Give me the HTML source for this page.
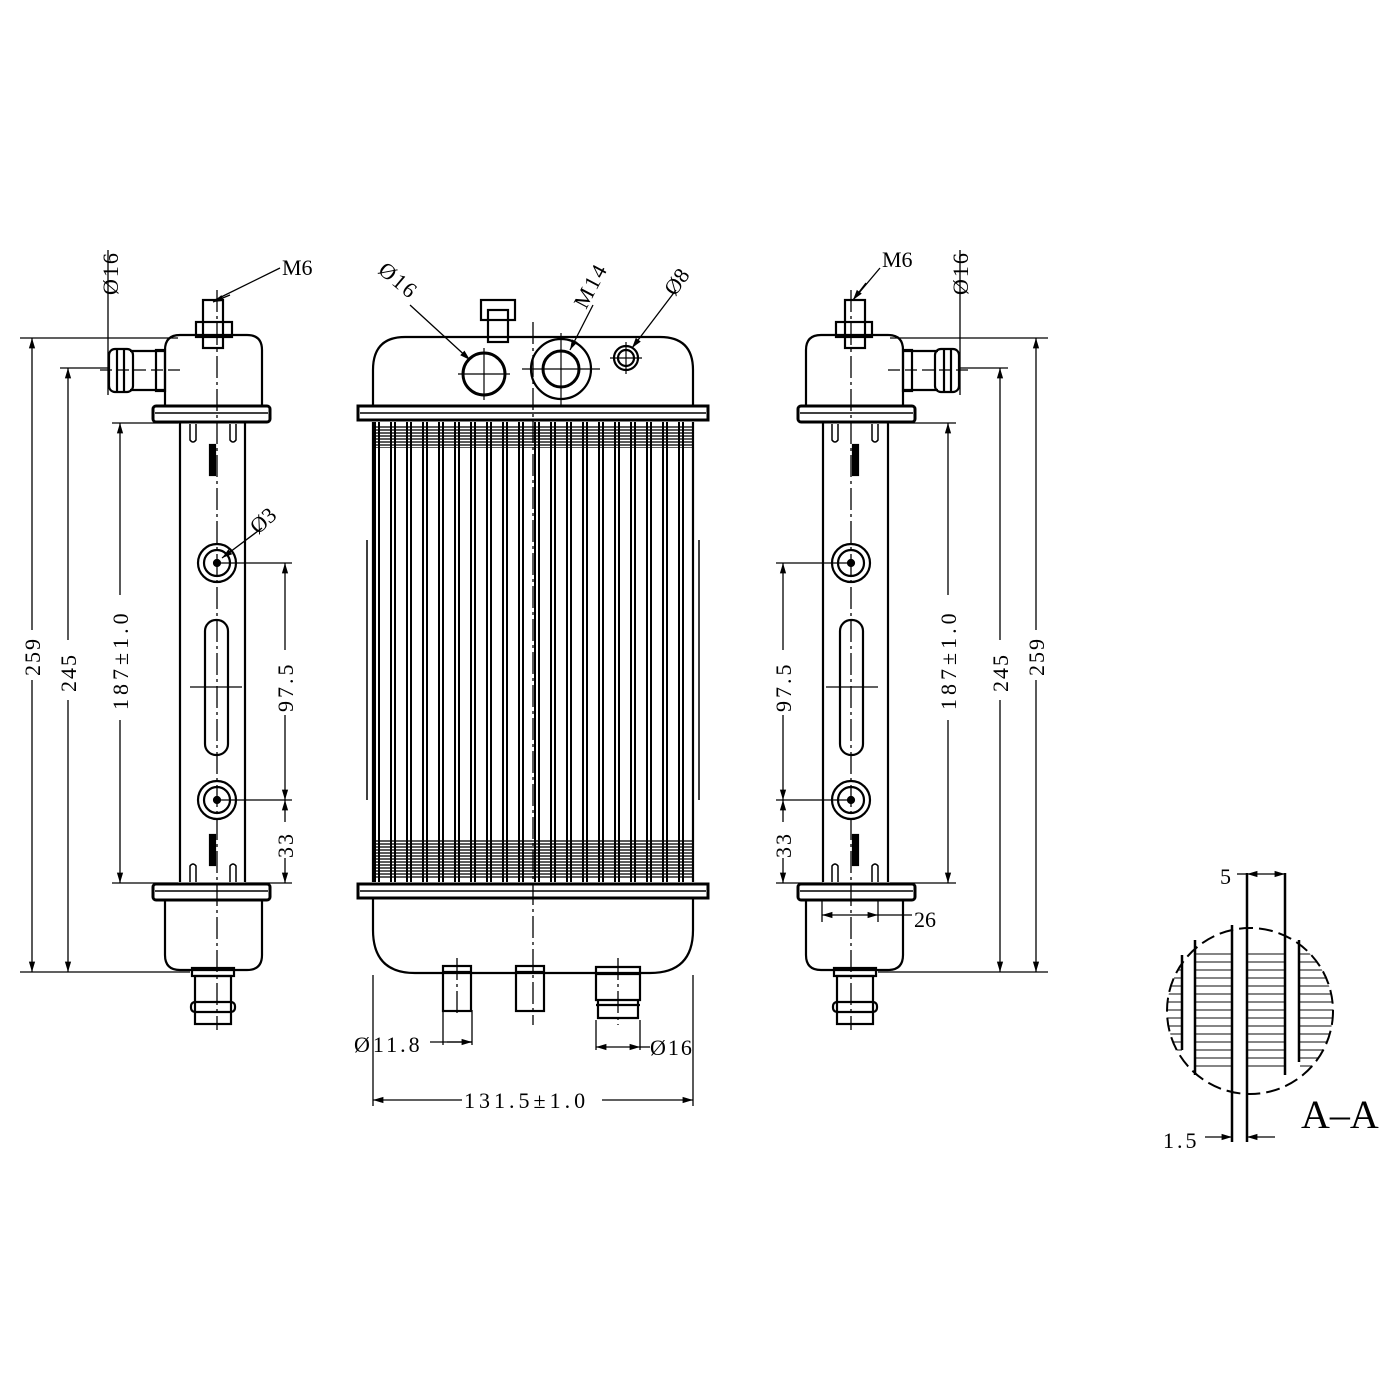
<!DOCTYPE html>
<html><head><meta charset="utf-8"><style>html,body{margin:0;padding:0;background:#fff}svg{display:block}</style></head>
<body>
<svg width="1400" height="1400" viewBox="0 0 1400 1400" xmlns="http://www.w3.org/2000/svg" font-family="Liberation Serif, serif" fill="none" stroke="#000">
<defs>
<pattern id="tubes" x="373" y="0" width="16" height="20" patternUnits="userSpaceOnUse">
<line x1="2" y1="0" x2="2" y2="20" stroke-width="2"/><line x1="6" y1="0" x2="6" y2="20" stroke-width="2"/>
</pattern>
<pattern id="hatch" x="0" y="0" width="10" height="3" patternUnits="userSpaceOnUse">
<line x1="0" y1="1" x2="10" y2="1" stroke="#333" stroke-width="1.6"/>
</pattern>
<pattern id="hatch2" x="0" y="953" width="10" height="8" patternUnits="userSpaceOnUse">
<line x1="0" y1="1" x2="10" y2="1" stroke="#333" stroke-width="1.2"/>
</pattern>
<marker id="a" viewBox="0 0 10 10" refX="10" refY="5" markerWidth="10" markerHeight="8" orient="auto-start-reverse"><path d="M0,2L10,5L0,8z" fill="#000" stroke="none"/></marker>
</defs>

<!-- ===== CENTER VIEW ===== -->
<g stroke-width="2.2">
<path d="M373,405 V370 Q373,337 405,337 H660 Q693,337 693,370 V405"/>
<rect x="358" y="406" width="350" height="14" stroke-width="3"/>
<line x1="360" y1="413" x2="706" y2="413" stroke-width="1.5"/>
<rect x="373" y="426" width="320" height="22" fill="url(#hatch)" stroke="none"/>
<rect x="373" y="840" width="320" height="38" fill="url(#hatch)" stroke="none"/>
<rect x="373" y="422" width="320" height="460" fill="url(#tubes)" stroke="none"/>
<line x1="373" y1="422" x2="373" y2="882"/><line x1="693" y1="422" x2="693" y2="882"/>
<rect x="358" y="884" width="350" height="14" stroke-width="3"/>
<line x1="360" y1="891" x2="706" y2="891" stroke-width="1.5"/>
<path d="M373,898 V930 Q373,973 415,973 H650 Q693,973 693,930 V898"/>
<line x1="367" y1="540" x2="367" y2="800" stroke-width="1.5"/>
<line x1="699" y1="540" x2="699" y2="800" stroke-width="1.5"/>
<rect x="481" y="300" width="34" height="20"/><rect x="488" y="310" width="20" height="32"/>
<circle cx="484" cy="374" r="21" stroke-width="3"/>
<line x1="458" y1="374" x2="510" y2="374" stroke-width="1.2"/><line x1="484" y1="348" x2="484" y2="400" stroke-width="1.2"/>
<circle cx="561" cy="369" r="30"/><circle cx="561" cy="369" r="18" stroke-width="3"/>
<line x1="522" y1="369" x2="600" y2="369" stroke-width="1.2"/><line x1="561" y1="333" x2="561" y2="405" stroke-width="1.2"/>
<circle cx="626" cy="358" r="12"/><circle cx="626" cy="358" r="8"/>
<line x1="610" y1="358" x2="642" y2="358" stroke-width="1.2"/><line x1="626" y1="342" x2="626" y2="374" stroke-width="1.2"/>
<rect x="443" y="966" width="28" height="45"/><line x1="443" y1="972" x2="471" y2="972"/>
<rect x="516" y="966" width="28" height="45"/><line x1="516" y1="972" x2="544" y2="972"/>
<path d="M596,967 H640 V1000 H596 Z M598,1000 H638 V1018 H598 Z"/><line x1="596" y1="974" x2="640" y2="974"/><line x1="596" y1="1005" x2="640" y2="1005"/>
</g>
<g stroke-width="1.3" stroke-dasharray="22 4 3 4">
<line x1="533" y1="322" x2="533" y2="1025"/>
<line x1="457" y1="958" x2="457" y2="1015"/><line x1="618" y1="958" x2="618" y2="1025"/>
</g>
<g stroke-width="1.3">
<line x1="373" y1="975" x2="373" y2="1106"/><line x1="693" y1="975" x2="693" y2="1106"/>
<line x1="373" y1="1100" x2="462" y2="1100" marker-start="url(#a)"/><line x1="602" y1="1100" x2="693" y2="1100" marker-end="url(#a)"/>
<line x1="443" y1="1010" x2="443" y2="1045"/><line x1="472" y1="1010" x2="472" y2="1045"/>
<line x1="430" y1="1042" x2="472" y2="1042"/><line x1="447" y1="1042" x2="472" y2="1042" marker-end="url(#a)"/>
<line x1="596" y1="1020" x2="596" y2="1050"/><line x1="640" y1="1020" x2="640" y2="1050"/>
<line x1="596" y1="1047" x2="618" y2="1047" marker-start="url(#a)"/><line x1="618" y1="1047" x2="640" y2="1047" marker-end="url(#a)"/><line x1="640" y1="1047" x2="650" y2="1047"/>
<line x1="410" y1="305" x2="470" y2="360" marker-end="url(#a)"/>
<line x1="593" y1="305" x2="570" y2="350" marker-end="url(#a)"/>
<line x1="676" y1="290" x2="632" y2="348" marker-end="url(#a)"/>
</g>
<g fill="#000" stroke="none" font-size="22">
<text x="464" y="1108" letter-spacing="4">131.5±1.0</text>
<text x="354" y="1052" letter-spacing="3">Ø11.8</text>
<text x="650" y="1055" letter-spacing="2">Ø16</text>
<text transform="translate(377,272) rotate(40)" letter-spacing="2">Ø16</text>
<text transform="translate(586,310) rotate(-62)" letter-spacing="2">M14</text>
<text transform="translate(675,297) rotate(-55)">Ø8</text>
</g>

<!-- ===== SIDE VIEW ===== -->
<g id="side" stroke-width="2.2">
<path d="M165,405 V350 Q165,335 180,335 H247 Q262,335 262,350 V405"/>
<rect x="196" y="322" width="36" height="15"/><rect x="203" y="300" width="20" height="48"/>
<path d="M165,351 H130 M165,390 H130"/>
<rect x="109" y="349" width="24" height="43" rx="6"/><line x1="117" y1="349" x2="117" y2="392"/><line x1="124" y1="349" x2="124" y2="392"/>
<rect x="156" y="350" width="9" height="41"/>
<rect x="153" y="406" width="117" height="16" rx="3" stroke-width="3"/><line x1="155" y1="413" x2="268" y2="413" stroke-width="1.5"/>
<line x1="180" y1="422" x2="180" y2="882"/><line x1="245" y1="422" x2="245" y2="882"/>
<path d="M190,424 V440 Q193,444 196,440 V424 M230,424 V440 Q233,444 236,440 V424" stroke-width="1.5"/>
<path d="M190,882 V866 Q193,862 196,866 V882 M230,882 V866 Q233,862 236,866 V882" stroke-width="1.5"/>
<rect x="210" y="445" width="5" height="30" fill="#000"/><rect x="210" y="835" width="5" height="30" fill="#000"/>
<circle cx="217" cy="563" r="19"/><circle cx="217" cy="563" r="13"/><circle cx="217" cy="563" r="3" fill="#000"/>
<circle cx="217" cy="800" r="19"/><circle cx="217" cy="800" r="13"/><circle cx="217" cy="800" r="3" fill="#000"/>
<rect x="205" y="620" width="23" height="135" rx="11"/>
<line x1="190" y1="687" x2="242" y2="687" stroke-width="1.3"/>
<rect x="153" y="884" width="117" height="16" rx="3" stroke-width="3"/><line x1="155" y1="891" x2="268" y2="891" stroke-width="1.5"/>
<path d="M165,900 V955 Q165,970 180,970 H247 Q262,970 262,955 V900"/>
<rect x="192" y="968" width="42" height="8"/><rect x="195" y="976" width="36" height="48"/><rect x="191" y="1002" width="44" height="10" rx="4"/>
<line x1="217" y1="290" x2="217" y2="1030" stroke-width="1.3" stroke-dasharray="22 4 3 4"/>
<line x1="100" y1="370" x2="180" y2="370" stroke-width="1.3" stroke-dasharray="12 5"/>
</g>
<use href="#side" transform="translate(1068,0) scale(-1,1)"/>

<g stroke-width="1.3">
<line x1="20" y1="338" x2="178" y2="338"/><line x1="20" y1="972" x2="190" y2="972"/>
<line x1="32" y1="338" x2="32" y2="630" marker-start="url(#a)"/><line x1="32" y1="680" x2="32" y2="972" marker-end="url(#a)"/>
<line x1="60" y1="368" x2="108" y2="368"/>
<line x1="68" y1="368" x2="68" y2="640" marker-start="url(#a)"/><line x1="68" y1="700" x2="68" y2="972" marker-end="url(#a)"/>
<line x1="112" y1="423" x2="178" y2="423"/><line x1="112" y1="883" x2="178" y2="883"/>
<line x1="120" y1="423" x2="120" y2="595" marker-start="url(#a)"/><line x1="120" y1="720" x2="120" y2="883" marker-end="url(#a)"/>
<line x1="217" y1="563" x2="292" y2="563"/><line x1="217" y1="800" x2="292" y2="800"/><line x1="245" y1="883" x2="292" y2="883"/>
<line x1="285" y1="563" x2="285" y2="650" marker-start="url(#a)"/><line x1="285" y1="715" x2="285" y2="800" marker-end="url(#a)"/>
<line x1="285" y1="800" x2="285" y2="822" marker-start="url(#a)"/><line x1="285" y1="858" x2="285" y2="883" marker-end="url(#a)"/>
<line x1="108" y1="250" x2="108" y2="395"/>
<line x1="215" y1="300" x2="280" y2="268"/><line x1="230" y1="295" x2="213" y2="302" marker-end="url(#a)"/>
<line x1="262" y1="528" x2="222" y2="558" marker-end="url(#a)"/>
</g>
<g stroke-width="1.3">
<line x1="890" y1="338" x2="1048" y2="338"/><line x1="878" y1="972" x2="1048" y2="972"/>
<line x1="1036" y1="338" x2="1036" y2="630" marker-start="url(#a)"/><line x1="1036" y1="680" x2="1036" y2="972" marker-end="url(#a)"/>
<line x1="960" y1="368" x2="1008" y2="368"/>
<line x1="1000" y1="368" x2="1000" y2="640" marker-start="url(#a)"/><line x1="1000" y1="700" x2="1000" y2="972" marker-end="url(#a)"/>
<line x1="890" y1="423" x2="956" y2="423"/><line x1="890" y1="883" x2="956" y2="883"/>
<line x1="948" y1="423" x2="948" y2="595" marker-start="url(#a)"/><line x1="948" y1="720" x2="948" y2="883" marker-end="url(#a)"/>
<line x1="776" y1="563" x2="851" y2="563"/><line x1="776" y1="800" x2="851" y2="800"/><line x1="776" y1="883" x2="823" y2="883"/>
<line x1="783" y1="563" x2="783" y2="650" marker-start="url(#a)"/><line x1="783" y1="715" x2="783" y2="800" marker-end="url(#a)"/>
<line x1="783" y1="800" x2="783" y2="822" marker-start="url(#a)"/><line x1="783" y1="858" x2="783" y2="883" marker-end="url(#a)"/>
<line x1="960" y1="250" x2="960" y2="395"/>
<line x1="853" y1="300" x2="880" y2="268"/><line x1="866" y1="283" x2="853" y2="300" marker-end="url(#a)"/>
<line x1="822" y1="900" x2="822" y2="922"/><line x1="878" y1="900" x2="878" y2="922"/>
<line x1="822" y1="915" x2="850" y2="915" marker-start="url(#a)"/><line x1="850" y1="915" x2="878" y2="915" marker-end="url(#a)"/><line x1="878" y1="915" x2="912" y2="915"/>
</g>
<g fill="#000" stroke="none" font-size="22">
<text transform="translate(40,676) rotate(-90)" letter-spacing="2">259</text>
<text transform="translate(76,692) rotate(-90)" letter-spacing="2">245</text>
<text transform="translate(128,710) rotate(-90)" letter-spacing="4">187±1.0</text>
<text transform="translate(293,712) rotate(-90)" letter-spacing="3">97.5</text>
<text transform="translate(293,858) rotate(-90)" letter-spacing="2">33</text>
<text transform="translate(118,295) rotate(-90)" letter-spacing="2">Ø16</text>
<text x="282" y="275">M6</text>
<text transform="translate(258,535) rotate(-42)">Ø3</text>
<text transform="translate(1044,676) rotate(-90)" letter-spacing="2">259</text>
<text transform="translate(1008,692) rotate(-90)" letter-spacing="2">245</text>
<text transform="translate(956,710) rotate(-90)" letter-spacing="4">187±1.0</text>
<text transform="translate(791,712) rotate(-90)" letter-spacing="3">97.5</text>
<text transform="translate(791,858) rotate(-90)" letter-spacing="2">33</text>
<text transform="translate(968,295) rotate(-90)" letter-spacing="2">Ø16</text>
<text x="882" y="267">M6</text>
<text x="914" y="927">26</text>
</g>

<!-- ===== SECTION A-A ===== -->
<g>
<clipPath id="cc"><circle cx="1250" cy="1011" r="83"/></clipPath>
<g clip-path="url(#cc)">
<rect x="1160" y="953" width="22" height="120" fill="url(#hatch2)" stroke="none"/>
<rect x="1196" y="953" width="36" height="120" fill="url(#hatch2)" stroke="none"/>
<rect x="1248" y="953" width="36" height="120" fill="url(#hatch2)" stroke="none"/>
<rect x="1300" y="953" width="40" height="120" fill="url(#hatch2)" stroke="none"/>
</g>
<circle cx="1250" cy="1011" r="83" stroke-width="2" stroke-dasharray="14 6"/>
<g stroke-width="2.5">
<line x1="1182" y1="955" x2="1182" y2="1050"/>
<line x1="1195" y1="940" x2="1195" y2="1075"/>
<line x1="1232" y1="925" x2="1232" y2="1142"/>
<line x1="1247" y1="873" x2="1247" y2="1142"/>
<line x1="1285" y1="873" x2="1285" y2="1075"/>
<line x1="1299" y1="940" x2="1299" y2="1062"/>
</g>
<g stroke-width="1.3">
<line x1="1237" y1="874" x2="1247" y2="874"/>
<line x1="1266" y1="874" x2="1247" y2="874" marker-end="url(#a)"/>
<line x1="1266" y1="874" x2="1285" y2="874" marker-end="url(#a)"/>
<line x1="1205" y1="1137" x2="1232" y2="1137" marker-end="url(#a)"/>
<line x1="1275" y1="1137" x2="1247" y2="1137" marker-end="url(#a)"/>
</g>
<g fill="#000" stroke="none">
<text x="1220" y="884" font-size="22">5</text>
<text x="1163" y="1148" font-size="22" letter-spacing="3">1.5</text>
<text x="1301" y="1128" font-size="40">A–A</text>
</g>
</g>
</svg>
</body></html>
